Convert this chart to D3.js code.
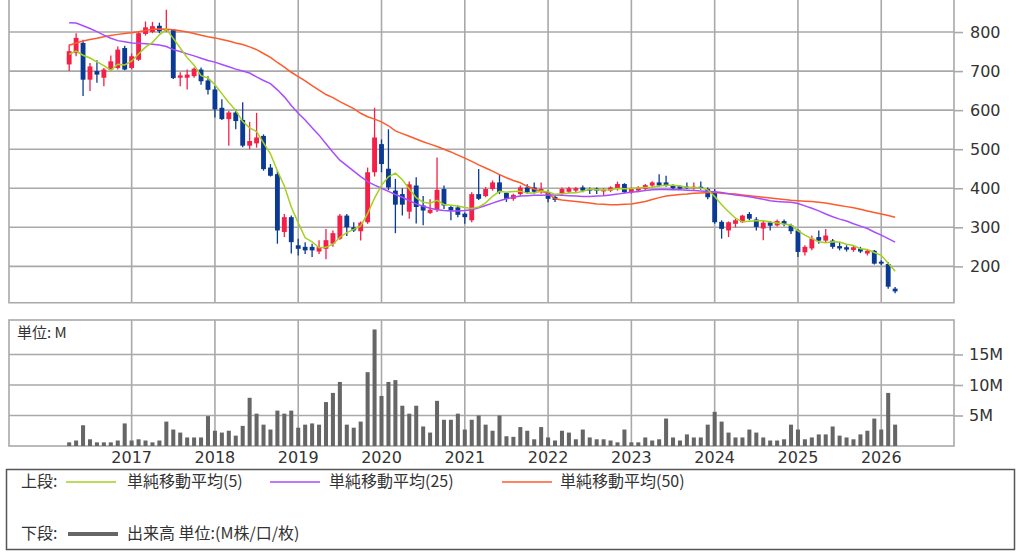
<!DOCTYPE html>
<html><head><meta charset="utf-8">
<script src="https://cdn.jsdelivr.net/npm/d3@7"></script>
<style>
html,body{margin:0;padding:0;background:#fff;}
svg{display:block;}
</style></head><body>
<svg id="chart" width="1024" height="557"></svg>
<script>
// ---------------- DATA (monthly, Apr 2016 – Mar 2026) ----------------
const startYear = 2016, startMonth = 4;
const open  = [717,746,772,678,700,683,704,708,759,708, 729,795,800,816,803,806,683,683,687,704,
               676,653,606,577,594,575,509,515,534,453, 436,288,326,254,250,250,238,245,258,271,
               330,300,290,313,441,513,450,394,385,340, 407,356,337,345,398,352,351,335,318,385,
               380,398,415,388,373,385,402,402,390,390, 378,386,391,394,402,398,399,392,394,398,
               411,390,394,398,407,415,415,408,406,404, 400,404,398,390,314,292,309,313,334,320,
               297,313,305,316,305,292,236,246,275,266, 266,252,249,242,245,233,240,212,206,143];
const high  = [768,797,780,721,728,708,740,763,765,745, 800,827,826,824,857,808,697,704,709,709,
               687,662,628,598,602,620,570,593,538,462, 445,334,330,271,262,258,267,296,292,334,
               334,313,315,453,606,525,551,424,400,417, 428,380,372,479,407,356,356,338,390,449,
               403,420,436,390,386,407,410,415,415,394, 381,402,404,403,407,402,402,400,405,417,
               413,402,405,411,418,436,432,410,408,415, 415,417,402,398,318,315,322,332,339,326,
               318,316,320,320,309,295,254,279,292,296, 270,262,254,252,250,244,242,216,211,147];
const low   = [700,738,636,649,670,661,700,704,702,705, 726,791,797,797,801,680,661,653,683,665,
               640,581,575,509,551,505,500,504,445,430, 258,275,233,228,232,224,232,218,250,268,
               278,288,266,309,430,441,395,285,330,322, 310,305,334,339,347,318,326,309,313,370,
               377,394,385,365,368,381,386,386,386,364, 365,381,388,390,390,385,385,381,390,394,
               387,386,390,395,403,404,404,396,396,398, 396,396,372,309,271,275,300,311,318,292,
               267,292,302,303,283,224,228,241,258,262, 245,241,238,237,234,228,205,203,143,131];
const close = [751,785,678,712,691,704,725,755,704,738, 797,812,815,802,808,682,689,691,706,674,
               652,602,577,594,572,509,521,530,449,432, 292,326,262,245,241,241,250,267,285,330,
               300,292,312,441,530,462,402,358,358,410, 352,343,345,396,356,343,332,326,385,373,
               398,415,390,373,383,402,390,391,398,373, 370,398,400,400,394,394,394,396,402,411,
               390,398,402,408,415,407,407,400,399,400, 404,400,377,313,296,313,318,330,322,301,
               312,304,316,308,290,237,250,271,266,279, 250,246,243,249,238,240,207,207,148,136];
// closes of the four months before Apr 2016 (needed for the 5-month average)
const priorClose = [745,730,748,741];
// volume, millions
const volume = [0.6,0.9,3.4,1.1,0.6,0.6,0.6,0.9,3.7,0.9, 1.1,0.9,0.6,0.9,4.0,2.7,2.2,1.4,1.4,1.4,
                4.9,2.5,2.2,2.5,1.7,3.3,7.9,5.3,3.5,2.7, 5.8,5.3,5.8,3.0,3.5,3.7,3.5,7.2,8.7,10.5,
                3.5,3.0,4.0,12.1,19.1,8.2,10.5,10.8,6.6,5.3, 6.6,3.2,2.2,7.4,4.3,4.3,5.3,2.7,4.3,5.0,
                3.5,2.5,5.0,1.6,1.5,3.1,2.5,1.1,3.1,1.4, 0.9,2.5,2.2,1.1,2.7,1.4,1.1,1.1,0.9,0.6,
                2.7,0.6,0.6,1.4,0.9,1.1,4.5,1.4,0.9,1.9, 1.4,1.4,3.5,5.6,4.0,2.2,1.4,1.4,2.7,2.2,
                1.4,0.9,0.9,1.1,3.5,2.7,1.1,1.4,1.9,1.9, 3.2,1.7,1.4,1.1,1.9,2.5,4.5,2.7,8.7,3.5];
// 25- and 50-month simple moving averages as drawn on the chart
const sma25 = [824,823,816,809,801,792,784,778,775,772, 771,770,769,767,763,755,750,744,739,733,
               727,723,717,711,705,700,695,685,676,668, 652,634,612,592,575,555,536,514,492,472,
               458,444,430,417,408,400,392,384,377,368, 360,354,349,345,343,342,342,343,345,350,
               356,362,368,373,377,380,381,382,382,383, 383,382,381,380,379,379,380,381,383,385,
               388,390,392,394,396,397,397,396,396,395, 394,393,392,391,389,386,383,381,378,375,
               372,368,366,365,364,361,355,349,342,334, 327,321,316,309,303,297,288,280,271,262];
const sma50 = [766,772,777,781,784,788,791,794,796,798, 801,804,807,808,807,806,803,800,796,792,
               788,785,781,777,772,768,762,755,745,735, 722,710,697,686,675,663,651,640,632,622,
               613,604,592,583,577,570,560,547,540,533, 526,519,513,507,500,493,485,477,469,460,
               452,444,435,427,420,414,405,398,392,387, 373,370,368,366,364,362,360,359,358,358,
               359,360,363,366,371,376,380,382,384,385, 387,388,389,389,387,386,385,383,381,379,
               377,375,373,371,369,368,367,366,364,362, 359,356,353,350,346,342,338,334,330,326];
const priceTicks = [200,300,400,500,600,700,800];
const volTicks = [5,10,15];
const volTickLabels = ["5M","10M","15M"];
const legendItems = [
  {label:"単純移動平均(5)", key:"ma5"},
  {label:"単純移動平均(25)", key:"ma25"},
  {label:"単純移動平均(50)", key:"ma50"}
];

// ---------------- derived ----------------
const months = close.map((_, i) => {
  const t = startMonth - 1 + i;
  return `${startYear + Math.floor(t / 12)}-${String(t % 12 + 1).padStart(2, "0")}`;
});
const allClose = priorClose.concat(close);
const sma5 = close.map((_, i) => d3.mean(allClose.slice(i, i + 5)));
const candles = months.map((m, i) => ({m, o: open[i], h: high[i], l: low[i], c: close[i], v: volume[i]}));
const januaries = months.filter(m => m.endsWith("-01"));

// ---------------- layout ----------------
const svg = d3.select("#chart");
const L = 9, R = 954;
const pTop = 0, pBot = 302.7;
const vTop = 320, vBot = 446;
const GRID = "#a9a9a9", TXT = "#333";
const UP = "#f51f48", DOWN = "#0b3a95";
const colors = {ma5: "#a3d11e", ma25: "#a94cff", ma50: "#ff5a2a"};
const numFont = "'DejaVu Sans', Verdana, sans-serif";
const jpFont = "'Noto Sans CJK JP', 'Noto Sans', sans-serif";

const x = d3.scaleBand().domain(months).range([65.7, 898.6]).paddingInner(0.3).paddingOuter(0.15);
const xv = x.copy().paddingInner(0.42).paddingOuter(0.21);
const cx = m => x(m) + x.bandwidth() / 2;
const y = d3.scaleLinear().domain([107, 882]).range([pBot, pTop]);
const yv = d3.scaleLinear().domain([0, 20.65]).range([vBot, vTop]);

// ---------------- grids ----------------
const grid = svg.append("g").attr("stroke", GRID).attr("stroke-width", 1.6).attr("fill", "none");
grid.selectAll(".hp").data(priceTicks).join("line")
  .attr("x1", L).attr("x2", R).attr("y1", d => y(d)).attr("y2", d => y(d));
grid.selectAll(".vp").data(januaries).join("line")
  .attr("x1", d => cx(d)).attr("x2", d => cx(d)).attr("y1", pTop).attr("y2", pBot);
grid.append("path").attr("d", `M${L},${pTop}V${pBot}H${R}V${pTop}`);
grid.selectAll(".hv").data(volTicks).join("line")
  .attr("x1", L).attr("x2", R).attr("y1", d => yv(d)).attr("y2", d => yv(d));
grid.selectAll(".vv").data(januaries).join("line")
  .attr("x1", d => cx(d)).attr("x2", d => cx(d)).attr("y1", vTop).attr("y2", vBot);
grid.append("rect").attr("x", L).attr("y", vTop).attr("width", R - L).attr("height", vBot - vTop);

// ---------------- axes ----------------
const styleAxis = g => {
  g.select(".domain").remove();
  g.selectAll(".tick line").attr("stroke", GRID).attr("stroke-width", 1.6);
  g.selectAll(".tick text").attr("fill", TXT).attr("font-family", numFont).attr("font-size", 16);
};
svg.append("g").attr("transform", `translate(${R},0)`)
  .call(d3.axisRight(y).tickValues(priceTicks).tickSize(9).tickPadding(7))
  .call(styleAxis);
svg.append("g").attr("transform", `translate(${R},0)`)
  .call(d3.axisRight(yv).tickValues(volTicks).tickSize(9).tickPadding(6)
    .tickFormat((d, i) => volTickLabels[i]))
  .call(styleAxis);
svg.append("g").attr("transform", `translate(0,${vBot})`)
  .call(d3.axisBottom(x).tickValues(januaries).tickSize(0).tickPadding(6)
    .tickFormat(d => d.slice(0, 4)))
  .call(styleAxis);

// ---------------- volume ----------------
svg.append("g").selectAll("rect").data(candles).join("rect")
  .attr("x", d => xv(d.m)).attr("width", xv.bandwidth())
  .attr("y", d => yv(d.v)).attr("height", d => vBot - yv(d.v))
  .attr("fill", "#666");
svg.append("text").attr("x", 17).attr("y", 338).attr("fill", TXT)
  .attr("font-family", jpFont).attr("font-size", 15).text("単位: M");

// ---------------- candles ----------------
const cg = svg.append("g");
const cs = cg.selectAll("g").data(candles).join("g")
  .attr("fill", d => d.c >= d.o ? UP : DOWN).attr("stroke", d => d.c >= d.o ? UP : DOWN);
cs.append("line").attr("x1", d => cx(d.m)).attr("x2", d => cx(d.m))
  .attr("y1", d => y(d.h)).attr("y2", d => y(d.l)).attr("stroke-width", 1.3);
cs.append("rect").attr("stroke", "none")
  .attr("x", d => x(d.m)).attr("width", x.bandwidth())
  .attr("y", d => y(Math.max(d.o, d.c)))
  .attr("height", d => Math.max(1.5, Math.abs(y(d.o) - y(d.c))));

// ---------------- moving averages ----------------
const lineGen = arr => d3.line().x((d, i) => cx(months[i])).y(d => y(d))(arr);
[["ma50", sma50], ["ma25", sma25], ["ma5", sma5]].forEach(([k, arr]) => {
  svg.append("path").attr("d", lineGen(arr)).attr("fill", "none")
    .attr("stroke", colors[k]).attr("stroke-width", 1.5);
});

// ---------------- legend ----------------
const lg = svg.append("g");
lg.append("rect").attr("x", 6.5).attr("y", 469.5).attr("width", 1008).attr("height", 80)
  .attr("fill", "#fff").attr("stroke", "#555").attr("stroke-width", 1.5);
const row1 = 487, row2 = 539;
const legFs = 16;
lg.append("text").attr("x", 21).attr("y", row1).attr("fill", TXT)
  .attr("font-family", jpFont).attr("font-size", legFs).text("上段:");
const legX = [{line: 66, text: 127}, {line: 270, text: 329}, {line: 502, text: 560}];
legendItems.forEach((it, i) => {
  lg.append("line").attr("x1", legX[i].line).attr("x2", legX[i].line + 50)
    .attr("y1", row1 - 5).attr("y2", row1 - 5).attr("stroke", colors[it.key]).attr("stroke-width", 1.6);
  lg.append("text").attr("x", legX[i].text).attr("y", row1).attr("fill", TXT)
    .attr("font-family", jpFont).attr("font-size", legFs).text(it.label);
});
lg.append("text").attr("x", 21).attr("y", row2).attr("fill", TXT)
  .attr("font-family", jpFont).attr("font-size", legFs).text("下段:");
lg.append("line").attr("x1", 68).attr("x2", 118).attr("y1", row2 - 5).attr("y2", row2 - 5)
  .attr("stroke", "#666").attr("stroke-width", 4);
lg.append("text").attr("x", 127).attr("y", row2).attr("fill", TXT)
  .attr("font-family", jpFont).attr("font-size", legFs).text("出来高 単位:(M株/口/枚)");
</script>
</body></html>
